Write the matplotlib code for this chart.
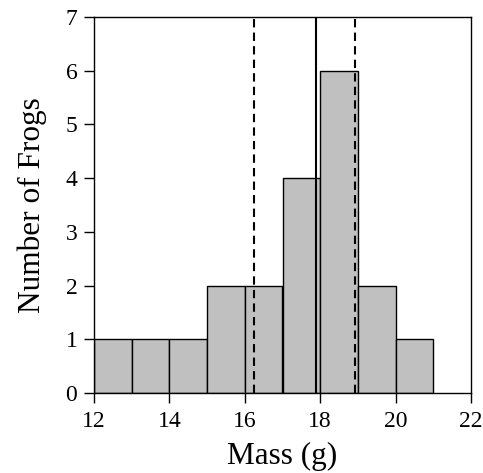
import matplotlib
matplotlib.use("Agg")
import matplotlib.pyplot as plt

bin_left = [12, 13, 14, 15, 16, 17, 18, 19, 20]
counts = [1, 1, 1, 2, 2, 4, 6, 2, 1]
mean_mass = 17.9
ci_low = 16.25
ci_high = 18.93

plt.rcParams['font.family'] = ['Liberation Serif', 'DejaVu Serif']

fig = plt.figure(figsize=(4.83, 4.73), dpi=100)
ax = fig.add_axes([94/483, 1 - 393/473, (471-94)/483, (393-17)/473])

ax.bar(bin_left, counts, width=1, align='edge', color='#c0c0c0', edgecolor='black', linewidth=1, zorder=2)
ax.axvline(mean_mass, color='black', linewidth=1.5, zorder=3)
ax.axvline(ci_low, color='black', linewidth=1.5, linestyle=(0, (4, 2.5)), zorder=3)
ax.axvline(ci_high, color='black', linewidth=1.5, linestyle=(0, (4, 2.5)), zorder=3)

ax.set_xlim(12, 22)
ax.set_ylim(0, 7)
ax.set_xticks([12, 14, 16, 18, 20, 22])
ax.set_yticks(range(0, 8))
ax.tick_params(direction='out', length=7, width=1, labelsize=17)
ax.tick_params(axis='y', pad=5)
ax.tick_params(axis='x', pad=6)
ax.set_xlabel('Mass (g)', fontsize=22.5, labelpad=7)
ax.set_ylabel('Number of Frogs', fontsize=22.5, labelpad=13)
for s in ax.spines.values():
    s.set_linewidth(1)

fig.savefig('out.png', dpi=100)
